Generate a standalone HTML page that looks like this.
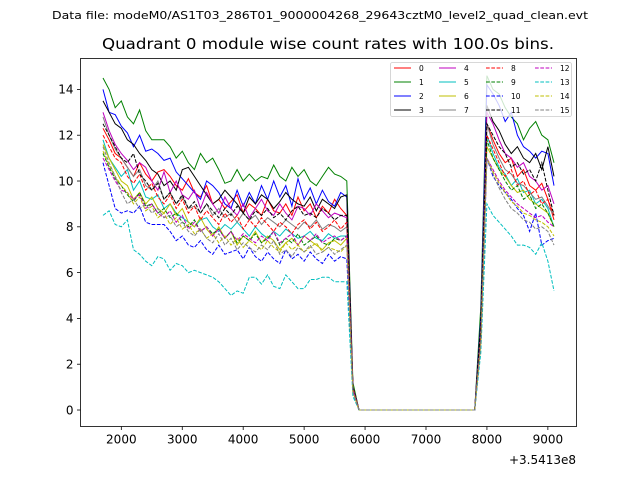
<!DOCTYPE html>
<html><head><meta charset="utf-8"><style>
body{margin:0;background:#fff}
svg{display:block;font-family:"DejaVu Sans","Liberation Sans",sans-serif}
</style></head><body>
<svg id="chart" width="640" height="480" viewBox="0 0 640 480" xmlns="http://www.w3.org/2000/svg">
<rect width="640" height="480" fill="#fff"/>
<text x="320" y="19" font-size="11" text-anchor="middle" textLength="536" lengthAdjust="spacingAndGlyphs">Data file: modeM0/AS1T03_286T01_9000004268_29643cztM0_level2_quad_clean.evt</text>
<text x="328" y="49" font-size="15.5" text-anchor="middle" textLength="452" lengthAdjust="spacingAndGlyphs">Quadrant 0 module wise count rates with 100.0s bins.</text>
<g id="series"></g>
<rect x="80.5" y="58.5" width="496" height="368" fill="none" stroke="#000" stroke-width="0.8"/>
<g id="xaxis"></g>
<g id="yaxis"></g>
<text x="576" y="464" font-size="12" text-anchor="end">+3.5413e8</text>
<g id="legend"></g>
</svg>
<script>
const Z = [0,0,0,0,0,0,0,0,0,0,0,0,0,0,0,0,0,0,0,0];
const xStart = 1700, binWidth = 100;
const xTicks = [2000,3000,4000,5000,6000,7000,8000,9000];
const xTickLabels = ["2000","3000","4000","5000","6000","7000","8000","9000"];
const yTicks = [0,2,4,6,8,10,12,14];
const yTickLabels = ["0","2","4","6","8","10","12","14"];
const names = ["0","1","2","3","4","5","6","7","8","9","10","11","12","13","14","15"];
const colors = ["#f00","#008000","#00f","#000","#bf00bf","#00bfbf","#bfbf00","#808080","#f00","#008000","#00f","#000","#bf00bf","#00bfbf","#bfbf00","#808080"];
const s0 = [12.3,11.8,11.2,11.0,10.6,10.2,10.8,10.3,10.0,10.4,10.5,10.2,9.8,9.6,10.1,9.5,9.3,9.8,9.0,9.2,8.8,9.1,9.4,8.6,9.0,8.8,8.5,9.2,8.7,8.6,9.0,8.5,9.3,8.7,9.0,8.4,8.9,8.6,9.2,8.8,8.5,1.1,...Z,3.5,12.5,11.8,11.2,10.8,11.0,10.2,10.5,9.8,9.6,9.9,9.2,8.3];
const s1 = [14.5,14.0,13.2,13.5,12.8,12.5,13.1,12.2,11.8,11.8,11.8,11.5,11.0,11.3,10.8,10.5,11.2,10.8,11.0,10.5,9.9,10.0,10.5,10.0,10.3,10.0,10.2,10.1,10.7,10.2,10.0,10.6,10.2,10.5,10.0,9.8,10.2,10.6,10.3,10.2,10.0,1.2,...Z,4.5,14.6,14.0,13.8,13.2,12.8,12.5,11.8,12.3,12.6,12.0,11.8,10.8];
const s2 = [14.0,13.0,12.9,12.4,12.1,11.5,12.0,11.3,11.4,11.2,10.9,11.0,10.4,10.1,9.8,9.5,9.2,10.0,9.8,9.5,9.0,8.8,9.6,8.9,9.5,9.0,9.8,9.2,10.0,9.3,9.8,8.9,10.1,9.2,9.7,9.0,9.6,9.1,8.9,9.5,9.3,1.0,...Z,4.0,14.2,13.8,13.3,12.6,13.0,12.0,11.5,11.3,11.0,11.3,11.2,9.8];
const s3 = [13.5,13.0,12.5,12.3,11.8,11.6,11.2,10.9,10.5,10.3,9.8,10.0,9.6,10.5,10.6,10.2,9.8,9.4,9.0,9.2,9.6,9.3,9.0,8.6,9.3,9.0,9.4,9.2,8.8,9.1,9.5,9.2,9.0,8.9,9.3,8.7,9.2,9.0,8.8,9.3,9.4,1.0,...Z,3.8,13.3,12.6,12.2,11.6,11.2,11.5,11.0,10.8,11.2,10.5,11.5,10.2];
const s4 = [13.0,12.2,11.6,11.2,10.9,10.5,10.8,10.6,10.0,9.6,10.4,9.5,10.0,9.4,9.2,9.6,8.8,9.5,9.0,8.6,9.3,8.8,8.5,9.0,8.4,8.8,9.2,8.7,8.5,9.0,8.6,8.3,8.9,8.8,8.5,9.0,8.7,8.4,8.6,8.5,8.4,1.0,...Z,3.6,13.0,12.5,11.8,11.2,11.0,10.6,10.8,10.2,10.0,9.6,9.8,9.0];
const s5 = [11.8,11.0,10.6,10.2,10.5,9.6,10.0,9.3,9.2,9.4,8.8,9.0,8.6,8.4,8.2,8.0,8.3,8.4,8.0,7.8,8.1,7.9,8.2,7.9,7.6,8.0,7.7,7.5,7.8,7.6,7.9,7.7,7.5,7.6,7.8,7.5,7.4,7.7,7.5,7.6,7.6,0.9,...Z,3.2,12.0,11.2,10.6,10.3,9.8,10.1,9.5,9.6,9.0,9.2,8.8,8.0];
const s6 = [11.6,11.0,10.5,10.0,9.8,9.2,9.5,9.0,9.3,8.8,8.6,9.0,8.5,8.8,8.2,8.0,8.4,7.9,7.6,8.0,7.5,7.8,7.2,7.6,7.4,7.8,7.3,7.6,7.4,7.0,7.3,7.5,7.2,7.6,7.4,7.2,7.0,7.3,7.4,7.2,7.5,0.8,...Z,3.0,11.5,11.0,10.5,10.2,9.8,9.5,9.6,9.2,9.0,8.8,8.6,8.0];
const s7 = [12.8,12.0,11.4,11.0,10.6,10.2,10.5,9.8,9.6,10.0,9.2,9.5,9.0,9.3,8.8,8.9,8.6,9.0,8.5,8.8,8.4,8.6,8.2,8.6,8.3,8.5,8.1,8.4,8.2,8.0,8.3,8.1,7.9,8.2,8.0,8.3,7.9,8.1,8.0,7.8,8.0,0.9,...Z,3.4,12.5,11.6,11.0,10.5,10.3,9.9,9.8,9.5,9.2,9.3,8.9,8.5];
const s8 = [12.0,11.5,11.0,10.8,10.2,9.9,10.3,9.6,9.9,9.3,9.0,9.4,8.8,9.2,8.6,8.9,8.3,8.7,8.4,8.1,8.6,8.2,8.5,7.9,8.3,8.0,8.4,8.1,7.8,8.2,8.0,7.7,8.1,8.3,7.9,8.2,7.8,8.0,8.3,7.9,8.2,1.0,...Z,3.3,12.0,11.4,10.8,10.2,10.5,9.8,10.0,9.4,9.6,9.0,9.2,8.5];
const s9 = [11.2,10.6,10.1,9.8,9.4,9.1,9.5,8.9,9.0,8.6,8.8,8.4,8.6,8.2,8.0,8.3,7.8,8.0,7.7,7.9,7.5,7.8,7.3,7.6,7.4,7.7,7.3,7.5,7.8,7.2,7.5,7.3,7.7,7.2,7.4,7.6,7.3,7.2,7.5,7.4,7.6,0.9,...Z,3.1,11.8,11.0,10.5,10.0,9.6,9.8,9.2,9.4,8.8,9.0,8.6,8.0];
const s10 = [10.8,9.8,8.8,8.6,8.7,8.6,8.9,8.2,8.1,8.1,8.1,7.8,7.4,7.6,7.2,7.1,7.4,7.0,6.8,7.2,6.8,6.9,7.0,6.6,7.1,6.7,6.5,6.9,6.6,6.4,7.0,6.6,6.8,6.5,6.9,6.6,6.4,6.8,6.5,6.7,6.6,0.8,...Z,2.8,11.0,10.2,9.8,9.5,9.2,8.8,8.5,7.8,8.6,7.2,7.4,7.5];
const s11 = [12.5,12.0,11.5,11.0,10.8,11.2,10.3,10.0,9.6,9.9,9.2,9.5,9.0,9.4,8.8,9.1,8.6,9.0,8.7,8.4,8.8,8.5,8.9,8.6,8.3,8.7,8.5,8.8,8.4,8.6,8.3,8.7,8.9,8.5,8.6,8.4,8.8,8.6,8.3,8.5,8.5,1.0,...Z,3.7,12.5,12.0,11.5,11.2,10.6,10.8,10.3,10.5,10.0,10.8,9.6,8.5];
const s12 = [11.0,10.5,10.0,9.6,9.5,9.2,9.4,8.8,9.0,8.6,8.4,8.7,8.2,8.5,7.9,8.2,7.8,8.0,7.6,7.9,7.5,7.8,7.4,7.7,7.5,7.3,7.6,7.4,7.8,7.3,7.5,7.7,7.2,7.6,7.4,7.7,7.3,7.5,7.6,7.4,7.6,0.9,...Z,3.0,11.0,10.5,10.0,9.6,9.3,9.0,8.8,8.6,8.4,8.5,8.2,8.0];
const s13 = [8.5,8.7,8.1,8.0,8.3,7.0,6.8,6.5,6.3,6.7,6.6,6.1,6.4,6.3,6.0,6.1,6.0,5.9,5.8,5.6,5.3,5.0,5.2,5.1,5.8,5.8,5.5,5.9,5.4,5.3,5.9,5.6,5.3,5.3,5.7,5.7,5.8,5.8,5.6,5.6,5.6,0.6,...Z,2.5,9.0,8.5,8.2,7.9,7.6,7.2,7.2,7.1,6.8,7.3,6.5,5.2];
const s14 = [11.3,10.7,10.2,9.8,9.5,9.0,9.3,8.7,8.9,8.4,8.6,8.1,8.4,7.9,8.1,7.7,7.9,7.5,7.7,7.3,7.6,7.2,7.5,7.1,7.4,7.2,7.0,7.4,7.1,6.9,7.3,7.0,7.2,6.9,7.1,7.3,6.9,7.1,7.0,6.9,7.2,0.8,...Z,2.9,11.0,10.4,9.9,9.5,9.1,8.9,8.6,8.5,8.3,8.2,8.0,7.6];
const s15 = [11.5,10.8,10.2,9.5,9.0,9.2,8.8,9.0,8.6,8.8,8.4,8.5,8.0,8.2,7.8,7.6,7.9,7.5,7.3,7.7,7.2,7.5,7.0,7.3,7.1,6.9,7.2,7.0,7.4,6.8,7.0,6.7,7.1,6.9,7.2,6.8,6.9,7.1,6.8,7.0,7.2,0.8,...Z,2.9,11.0,10.3,9.7,9.2,8.8,8.6,8.3,8.2,7.9,8.0,7.8,7.2];
const seriesList = [s0,s1,s2,s3,s4,s5,s6,s7,s8,s9,s10,s11,s12,s13,s14,s15];

const NS = "http://www.w3.org/2000/svg";
const X0 = 80.5, X1 = 576.5, Y0 = 426.5, Y1 = 58.5;
const xMin = 1330, xMax = 9470, yMin = -0.72, yMax = 15.35;
function xs(v){ return X0 + (v - xMin) / (xMax - xMin) * (X1 - X0); }
function ys(v){ return Y0 - (v - yMin) / (yMax - yMin) * (Y0 - Y1); }
function mk(tag, attrs, parent){ const e = document.createElementNS(NS, tag); for (const k in attrs) e.setAttribute(k, attrs[k]); parent.appendChild(e); return e; }

const sg = document.getElementById('series');
seriesList.forEach((s, i) => {
  const pts = s.map((v, j) => xs(xStart + j * binWidth).toFixed(1) + ',' + ys(v).toFixed(1)).join(' ');
  const pl = mk('polyline', {points: pts, fill: 'none', stroke: colors[i], 'stroke-width': 1, 'stroke-dasharray': i >= 8 ? '3.7,1.6' : 'none'}, sg);
  
  
});

const xg = document.getElementById('xaxis');
xTicks.forEach((t, i) => {
  const ln = mk('line', {x1: xs(t), x2: xs(t), y1: Y0, y2: Y0 + 3.5, stroke: '#000', 'stroke-width': 0.8}, xg);
  
  
  const tx = mk('text', {x: xs(t), y: Y0 + 17, 'font-size': 12, 'text-anchor': 'middle'}, xg);
  
  
  tx.textContent = xTickLabels[i];
});
const yg = document.getElementById('yaxis');
yTicks.forEach((t, i) => {
  const ln = mk('line', {x1: X0 - 3.5, x2: X0, y1: ys(t), y2: ys(t), stroke: '#000', 'stroke-width': 0.8}, yg);
  
  
  const tx = mk('text', {x: X0 - 7, y: ys(t) + 4.3, 'font-size': 12, 'text-anchor': 'end'}, yg);
  
  
  tx.textContent = yTickLabels[i];
});

const lg = document.getElementById('legend');
const bg = mk('rect', {x: 390.5, y: 62.5, width: 181, height: 54, rx: 2, fill: '#fff', 'fill-opacity': 0.8, stroke: '#ccc', 'stroke-width': 0.8}, lg);


const colX = [394, 439, 486, 535];
const rowY = [68, 82, 96, 110];
names.forEach((n, i) => {
  const c = Math.floor(i / 4), r = i % 4;
  const g = mk('g', {}, lg);
  
  
  mk('line', {x1: colX[c], x2: colX[c] + 17, y1: rowY[r], y2: rowY[r], stroke: colors[i], 'stroke-width': 1, 'stroke-dasharray': i >= 8 ? '3.7,1.6' : 'none'}, g);
  const tx = mk('text', {x: colX[c] + 25, y: rowY[r] + 2.8, 'font-size': 7.5}, g);
  tx.textContent = n;
});
</script>
</body></html>
